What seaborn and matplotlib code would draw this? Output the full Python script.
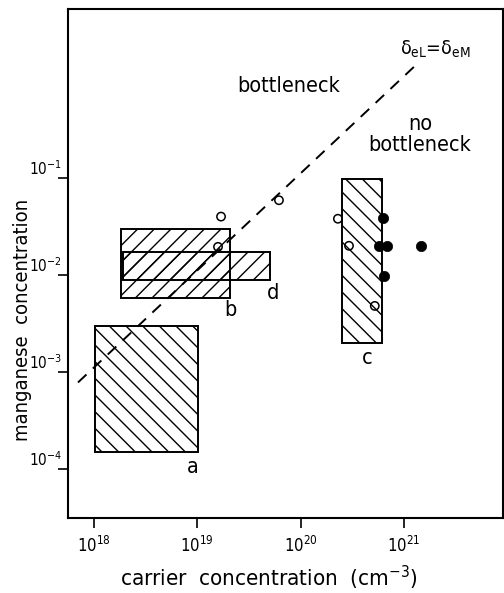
import matplotlib
matplotlib.use("Agg")
import matplotlib.pyplot as plt
import seaborn as sns
from matplotlib.patches import Rectangle

# ---- data ----
box_names = ["a", "b", "c", "d"]
box_x_lo = [1.03e18, 1.84e18, 2.49e20, 1.93e18]
box_x_hi = [1.01e19, 2.07e19, 6.1e20, 5.0e19]
box_y_lo = [1.5e-4, 5.8e-3, 2.0e-3, 8.9e-3]
box_y_hi = [3.0e-3, 3.0e-2, 9.8e-2, 1.74e-2]
box_hatch = ["\\\\", "//", "\\\\", "//"]

label_x = [9.1e18, 2.08e19, 4.37e20, 5.4e19]
label_y = [1.05e-4, 4.35e-3, 1.39e-3, 6.5e-3]

open_x = [1.70e19, 1.59e19, 6.17e19, 2.29e20, 2.93e20, 5.2e20]
open_y = [0.040, 0.0195, 0.059, 0.038, 0.020, 0.0048]

filled_x = [6.2e20, 5.7e20, 6.8e20, 6.4e20, 1.45e21]
filled_y = [0.039, 0.020, 0.020, 0.0098, 0.020]

line_x = [7.05e17, 1.36e21]
line_y = [7.8e-4, 1.53]

x_ticks = [1e18, 1e19, 1e20, 1e21]
x_ticklabels = [r"10$^{18}$", r"10$^{19}$", r"10$^{20}$", r"10$^{21}$"]
y_ticks = [1e-4, 1e-3, 1e-2, 1e-1]
y_ticklabels = [r"10$^{-4}$", r"10$^{-3}$", r"10$^{-2}$", r"10$^{-1}$"]

# ---- style ----
sns.set_style("ticks")
plt.rcParams["font.family"] = ["DejaVu Sans"]
plt.rcParams["font.stretch"] = "condensed"
plt.rcParams["hatch.linewidth"] = 1.0
plt.rcParams["hatch.color"] = "black"
for k in ["text.color", "axes.labelcolor", "xtick.color", "ytick.color",
          "xtick.labelcolor", "ytick.labelcolor", "axes.edgecolor"]:
    plt.rcParams[k] = "black"

fig = plt.figure(figsize=(5.04, 5.93), dpi=100)
ax = fig.add_axes([67.5 / 504, 1 - 518 / 593, (503 - 67.5) / 504, 509 / 593])
ax.set_xscale("log")
ax.set_yscale("log")
ax.set_xlim(10 ** 17.747, 10 ** 21.955)
ax.set_ylim(10 ** -4.505, 10 ** 0.742)

for xl, xh, yl, yh, h in zip(box_x_lo, box_x_hi, box_y_lo, box_y_hi, box_hatch):
    ax.add_patch(Rectangle((xl, yl), xh - xl, yh - yl, facecolor="none",
                           edgecolor="black", linewidth=1.4, hatch=h, zorder=2))

sns.lineplot(x=line_x, y=line_y, ax=ax, color="black", linewidth=1.4,
             dashes=False, zorder=3).lines[-1].set_dashes((6, 4.5))

sns.scatterplot(x=open_x, y=open_y, ax=ax, marker="o", s=36,
                facecolor="none", edgecolor="black", linewidth=1.1, zorder=4)
sns.scatterplot(x=filled_x, y=filled_y, ax=ax, marker="o", s=55,
                color="black", edgecolor="black", linewidth=0.5, zorder=4)

for n, lx, ly in zip(box_names, label_x, label_y):
    ax.text(lx, ly, n, fontsize=15.5, ha="center", va="center")

ax.text(7.6e19, 0.89, "bottleneck", fontsize=15.5, ha="center", va="center")
ax.text(1.42e21, 0.28, "no\nbottleneck", fontsize=15.5, ha="center",
        va="center", linespacing=1.05)
ax.text(2.0e21, 2.1, r"δ$_{\rm eL}$=δ$_{\rm eM}$", fontsize=14, ha="center",
        va="center")

ax.minorticks_off()
ax.set_xticks(x_ticks)
ax.set_xticklabels(x_ticklabels, fontsize=12)
ax.set_yticks(y_ticks)
ax.set_yticklabels(y_ticklabels, fontsize=11)
ax.tick_params(axis="both", which="major", length=7, width=1.2, color="black",
               direction="out")
ax.tick_params(axis="x", pad=6)
ax.tick_params(axis="y", pad=-3)
for lab in ax.get_yticklabels():
    lab.set_verticalalignment("bottom")

for s in ax.spines.values():
    s.set_linewidth(1.5)
    s.set_color("black")

ax.set_xlabel(r"carrier  concentration  (cm$^{-3}$)", fontsize=16)
ax.set_ylabel("manganese  concentration", fontsize=14.5)
ax.xaxis.set_label_coords(0.462, -0.118)
ax.xaxis.label.set_verticalalignment("center")
ax.yaxis.set_label_coords(-0.104, 0.389)
ax.yaxis.label.set_verticalalignment("center")

fig.savefig("out.png", dpi=100)
